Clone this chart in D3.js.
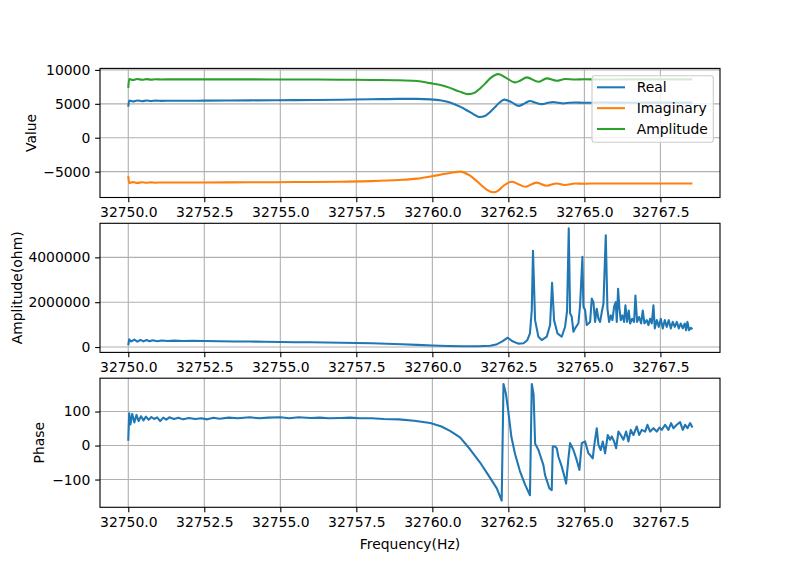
<!DOCTYPE html>
<html><head><meta charset="utf-8">
<script src="https://cdn.jsdelivr.net/npm/d3@7"></script>
<style>body{margin:0;background:#fff} text{font-family:"DejaVu Sans",sans-serif}</style>
</head><body><svg id="c" width="800" height="570"></svg>
<script>
// ---------- DATA ----------
const xTickVals=[32750,32752.5,32755,32757.5,32760,32762.5,32765,32767.5];
const valueTicks=[-5000,0,5000,10000];
const ampTicks=[0,2000000,4000000];
const phaseTicks=[-100,0,100];
const seriesNames=["Real","Imaginary","Amplitude"];

const realFreq=[32750.00,32750.03,32750.15,32750.3,32750.45,32750.6,32750.75,32750.9,32751.1,32751.4,32751.8,32752.5,32754,32755.5,32757,32758,32758.9,32759.5,32759.93,32760.3,32760.58,32760.91,32761.13,32761.35,32761.54,32761.75,32761.9,32762.05,32762.2,32762.37,32762.6,32762.85,32763.05,32763.21,32763.4,32763.6,32763.8,32763.98,32764.15,32764.31,32764.5,32764.7,32765,32765.5,32766.5,32767.5,32768.55];
const realVals=[4600,5480,5360,5500,5390,5480,5410,5470,5430,5460,5450,5470,5510,5550,5610,5670,5730,5730,5660,5480,5200,4580,4050,3480,3060,3250,3800,4450,5150,5620,5250,4700,5100,5420,5150,4950,5150,5280,5150,5050,5170,5200,5150,5190,5170,5180,5180];

const imagFreq=[32750.00,32750.03,32750.15,32750.3,32750.45,32750.6,32750.75,32750.9,32751.1,32751.4,32751.8,32752.5,32754,32755.5,32757,32758,32758.9,32759.5,32759.93,32760.3,32760.58,32760.91,32761.24,32761.45,32761.63,32761.8,32762.0,32762.17,32762.34,32762.63,32762.85,32763.05,32763.43,32763.76,32764.09,32764.36,32764.7,32765,32765.5,32766.5,32767.5,32768.55];
const imagVals=[-5650,-6680,-6540,-6680,-6560,-6650,-6580,-6630,-6590,-6610,-6600,-6590,-6570,-6540,-6480,-6400,-6235,-6030,-5720,-5420,-5200,-5000,-5600,-6350,-7080,-7700,-8050,-7800,-7080,-6480,-6900,-7230,-6620,-7080,-6740,-6960,-6760,-6780,-6740,-6750,-6740,-6740];

const ampFreq=[32750.00,32750.03,32750.15,32750.3,32750.45,32750.6,32750.75,32750.9,32751.1,32751.4,32751.8,32752.5,32754,32755.5,32757,32758,32758.9,32759.5,32759.93,32760.3,32760.58,32760.9,32761.18,32761.4,32761.57,32761.75,32761.9,32762.17,32762.45,32762.72,32762.9,32763.1,32763.49,32763.76,32764.09,32764.36,32764.7,32765,32765.5,32766.5,32767.5,32768.55];
const ampVals=[7350,8650,8520,8660,8550,8640,8570,8630,8590,8610,8600,8610,8600,8590,8560,8520,8480,8360,8050,7750,7350,6800,6430,6650,7270,8050,8750,9380,8750,8160,8450,8900,8250,8750,8400,8650,8580,8620,8590,8600,8600,8600];

const magFreq=[32750.00,32750.03,32750.1,32750.2,32750.3,32750.4,32750.5,32750.6,32750.7,32750.8,32750.95,32751.1,32751.3,32751.5,32751.8,32752.1,32752.5,32753.0,32753.5,32754.0,32754.5,32755.0,32755.5,32756.0,32756.5,32757.0,32757.5,32758.0,32758.5,32759.0,32759.5,32760.0,32760.5,32761.0,32761.5,32761.9,32762.1,32762.3,32762.48,32762.62,32762.82,32763.0,32763.12,32763.21,32763.27,32763.31,32763.378,32763.488,32763.598,32763.762,32763.872,32763.937,32764.003,32764.113,32764.255,32764.365,32764.43,32764.486,32764.53,32764.584,32764.639,32764.694,32764.804,32764.859,32764.935,32764.968,32765.023,32765.078,32765.188,32765.243,32765.298,32765.352,32765.407,32765.462,32765.517,32765.572,32765.627,32765.703,32765.758,32765.813,32765.868,32765.923,32765.977,32766.032,32766.065,32766.109,32766.153,32766.197,32766.252,32766.306,32766.35,32766.405,32766.46,32766.504,32766.57,32766.635,32766.679,32766.734,32766.8,32766.866,32766.92,32766.975,32767.052,32767.107,32767.162,32767.216,32767.271,32767.315,32767.381,32767.447,32767.513,32767.578,32767.644,32767.71,32767.776,32767.842,32767.907,32767.973,32768.039,32768.105,32768.17,32768.236,32768.302,32768.346,32768.39,32768.445,32768.5,32768.554];
const magVals=[80000,340000,250000,330000,240000,320000,250000,310000,255000,300000,260000,295000,265000,285000,270000,280000,265000,260000,250000,245000,235000,225000,215000,210000,200000,190000,180000,165000,145000,120000,95000,70000,48000,33000,32000,55000,110000,250000,415000,268000,150000,165000,300000,610000,1650000,4290000,1200000,460000,312000,460000,980000,2870000,1200000,610000,460000,906000,1600000,5300000,1500000,1350000,683000,835000,1060000,1870000,4030000,1800000,1650000,980000,1120000,2160000,2000000,1120000,1710000,1260000,1120000,1560000,1930000,4990000,1710000,1120000,1410000,1200000,1790000,2000000,1120000,2600000,1710000,1200000,1410000,1120000,1860000,1120000,1630000,1050000,1260000,1120000,2300000,1120000,1340000,1050000,1630000,1050000,1200000,980000,1260000,1050000,1860000,830000,1200000,900000,1260000,830000,1200000,900000,1200000,830000,1120000,900000,1120000,830000,1050000,830000,1050000,750000,1120000,750000,860000,800000];

const phaseFreq=[32750.00,32750.03,32750.07,32750.13,32750.2,32750.27,32750.34,32750.42,32750.5,32750.58,32750.67,32750.76,32750.85,32750.95,32751.05,32751.15,32751.25,32751.35,32751.5,32751.65,32751.8,32752.0,32752.2,32752.4,32752.6,32752.8,32753.0,32753.3,32753.6,32754.0,32754.3,32754.6,32755.0,32755.3,32755.6,32756.0,32756.3,32756.6,32757.0,32757.3,32757.6,32758.0,32758.4,32758.9,32759.4,32759.93,32760.3,32760.58,32760.91,32761.24,32761.57,32761.9,32762.12,32762.28,32762.34,32762.42,32762.5,32762.6,32762.72,32762.88,32763.05,32763.21,32763.27,32763.33,32763.38,32763.49,32763.543,32763.65,32763.707,32763.85,32763.927,32763.96,32764.036,32764.091,32764.146,32764.256,32764.332,32764.398,32764.475,32764.53,32764.64,32764.749,32764.837,32764.914,32765.023,32765.133,32765.188,32765.275,32765.319,32765.407,32765.462,32765.539,32765.604,32765.681,32765.769,32765.846,32765.9,32765.977,32766.043,32766.12,32766.196,32766.284,32766.372,32766.449,32766.525,32766.613,32766.723,32766.8,32766.887,32766.997,32767.074,32767.161,32767.271,32767.381,32767.468,32767.545,32767.655,32767.764,32767.852,32767.929,32768.039,32768.148,32768.236,32768.313,32768.39,32768.477,32768.554];
const phaseVals=[14,95,62,93,68,90,72,86,74,85,76,84,78,83,72,82,76,83,78,82,77,81,78,80,77,82,79,82,80,83,80,82,83,80,83,81,82,80,81,82,80,80,78,77,73,66,56,43,24,-11,-50,-95,-126,-162,181,152,100,25,-25,-75,-115,-146,181,150,5,-13,-28,-57,-87,-126,-131,-3,-3,-8,-33,-62,-87,-112,-38,7,-13,-43,-72,7,12,-23,-28,-38,-3,51,2,-13,12,-23,31,17,27,12,-8,41,31,17,41,12,46,31,56,31,46,41,61,41,51,41,53,46,61,46,66,51,61,69,46,61,51,66,53];

// ---------- LAYOUT ----------
const svg=d3.select("#c");
const L=100,R=720,axH=129.1,tops=[68.4,223.3,378.2];
const colors=["#1f77b4","#ff7f0e","#2ca02c"];
const FS="13.9px", LW=2.08, GW=1.11, TK=4.86;
const x=d3.scaleLinear().domain([32749.07,32769.46]).range([L,R]);
const minus=s=>String(s).replace("-","\u2212");

function panel(i,yDomain,yTicks,series,ylabel,ylx,curve){
  const top=tops[i],bot=top+axH;
  const y=d3.scaleLinear().domain(yDomain).range([bot,top]);
  const g=svg.append("g");
  const grid=g.append("g").attr("stroke","#b0b0b0").attr("stroke-width",GW);
  grid.selectAll(".gx").data(xTickVals).join("line").attr("class","gx")
    .attr("x1",d=>x(d)).attr("x2",d=>x(d)).attr("y1",top).attr("y2",bot);
  grid.selectAll(".gy").data(yTicks).join("line").attr("class","gy")
    .attr("x1",L).attr("x2",R).attr("y1",d=>y(d)).attr("y2",d=>y(d));
  const cid="clip"+i;
  svg.append("clipPath").attr("id",cid).append("rect").attr("x",L).attr("y",top).attr("width",R-L).attr("height",axH);
  const line=d3.line().x(d=>x(d[0])).y(d=>y(d[1])).curve(curve);
  series.forEach(s=>{
    g.append("path").attr("clip-path",`url(#${cid})`).attr("d",line(d3.zip(s.f,s.v)))
      .attr("fill","none").attr("stroke",s.c).attr("stroke-width",LW)
      .attr("stroke-linejoin","round").attr("stroke-linecap","butt");
  });
  const xa=g.append("g").attr("transform",`translate(0,${bot})`)
    .call(d3.axisBottom(x).tickValues(xTickVals).tickFormat(d3.format(".1f")).tickSize(TK).tickPadding(TK));
  const ya=g.append("g").attr("transform",`translate(${L},0)`)
    .call(d3.axisLeft(y).tickValues(yTicks).tickFormat(d=>minus(d3.format("d")(d))).tickSize(TK).tickPadding(TK));
  [xa,ya].forEach(a=>{
    a.select(".domain").remove();
    a.selectAll("line").attr("stroke","#000").attr("stroke-width",GW);
    a.selectAll("text").attr("fill","#000").style("font-size",FS).style("font-family","DejaVu Sans");
  });
  g.append("rect").attr("x",L).attr("y",top).attr("width",R-L).attr("height",axH)
    .attr("fill","none").attr("stroke","#000").attr("stroke-width",GW);
  g.append("text").attr("transform",`translate(${ylx},${top+axH/2}) rotate(-90)`)
    .attr("text-anchor","middle").attr("dy","0.35em").style("font-size",FS).text(ylabel);
  return g;
}

panel(0,[-8813,10223],valueTicks,[
  {f:realFreq,v:realVals,c:colors[0]},
  {f:imagFreq,v:imagVals,c:colors[1]},
  {f:ampFreq,v:ampVals,c:colors[2]}],"Value",31,d3.curveMonotoneX);
panel(1,[-240000,5520000],ampTicks,[{f:magFreq,v:magVals,c:colors[0]}],"Amplitude(ohm)",16.7,d3.curveLinear);
panel(2,[-181.6,198],phaseTicks,[{f:phaseFreq,v:phaseVals,c:colors[0]}],"Phase",39.5,d3.curveLinear);

svg.append("text").attr("x",(L+R)/2).attr("y",544).attr("dy","0.35em").attr("text-anchor","middle")
  .style("font-size",FS).text("Frequency(Hz)");

// legend
const lg=svg.append("g");
lg.append("rect").attr("x",592).attr("y",75.7).attr("width",121.3).attr("height",66.6).attr("rx",2.5)
  .attr("fill","#fff").attr("fill-opacity",0.8).attr("stroke","#cccccc").attr("stroke-width",GW);
seriesNames.forEach((n,k)=>{
  const yy=87.3+k*20.85;
  lg.append("line").attr("x1",597).attr("x2",625).attr("y1",yy).attr("y2",yy).attr("stroke",colors[k]).attr("stroke-width",LW);
  lg.append("text").attr("x",636.7).attr("y",yy).attr("dy","0.35em").style("font-size",FS).text(n);
});
</script></body></html>
